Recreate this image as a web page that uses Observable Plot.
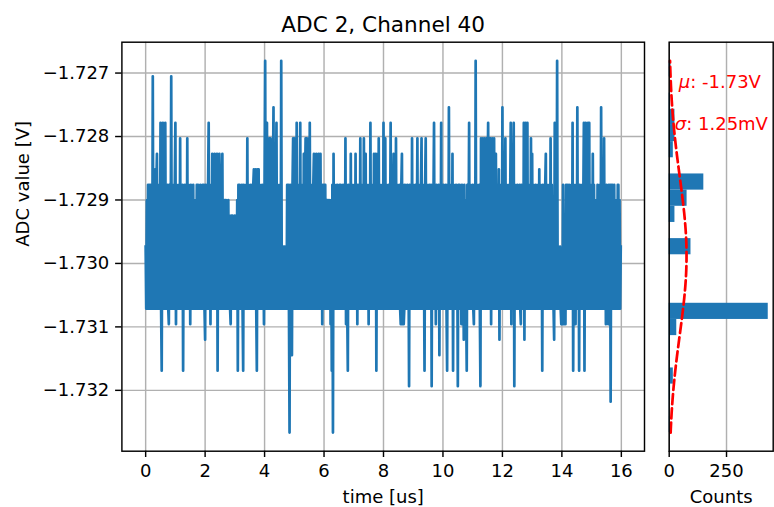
<!DOCTYPE html>
<html>
<head>
<meta charset="utf-8">
<script src="https://cdn.jsdelivr.net/npm/d3@7"></script>
<script src="https://cdn.jsdelivr.net/npm/@observablehq/plot@0.6"></script>
<style>
  html, body { margin: 0; padding: 0; background: #fff; }
  #fig { position: relative; width: 774px; height: 507px; overflow: hidden; background: #fff; }
  #fig > svg { position: absolute; top: 0; }
</style>
</head>
<body>
<div id="fig"></div>
<script>
// ADC output levels in volts (one code = 1/4096 V), lowest to highest.
// Each letter of levelKeys names the level at the same position.
const levels = [
  -1.7326660, -1.7324219, -1.7321777, -1.7319336, -1.7316895,
  -1.7314453, -1.7312012, -1.7309570, -1.7307129, -1.7304688,
  -1.7302246, -1.7299805, -1.7297363, -1.7294922, -1.7292480,
  -1.7290039, -1.7287598, -1.7285156, -1.7282715, -1.7280273,
  -1.7277832, -1.7275391, -1.7272949, -1.7270508, -1.7268066
];
const levelKeys = "ABCDEFGHIJKLMNOPQRSTUVWXY";

// Recorded samples, one string per microsecond (50 samples each).
const traceRows = [
  "MIPIQIQIQIQIXIQIRIQSIQIMIUIEQUIQIUIPIQIHQIMXIQIPIQ",
  "UHQIPIQITIMIQEPIQIMITIQIPHQIMIQIOIPIQIQIMIQIPIQIQI",
  "GQIPIQUIQHQISIMISIQISEQISIPIQSIMIPIPIMIPIOIHOIOIMI",
  "OIMIPEQIQIPIQIEQIMIQITIQIPIQIMIQRIQRIERIRIQIPIQIMH",
  "QYIQUITITITIQIQVIQIPUIQIMIQIYIMIMIMIMIQIQIAQIPFQTI",
  "TITIUIQIPIUIQIMISIQTITIQTIUIQIPIQSIQISIMISIQSIQHQI",
  "QIQIMPIPIOPHPEQASIQIPIQIMIQIQIMIQIPITHQIEQIMISIQIP",
  "IQISIQHQIPITIQIMITIQSIQIPHQIUIQIMISIQSEQSITIQIPIQI",
  "UIQTIQIPIQIMUIQIPSIQITIQIMIQIHQSHQHIQIPIQIMDQIPITI",
  "QIPIQIMTIQIPIQTIQIMEQTIQIPIQIMQDQIPUIQHQIMIQFQIUIQ",
  "IQIPIQIEQIVIQIMISEQIPIQIMDQIQIPHQIMGQIPIEQIMUIQIPI",
  "QIHQIYIQIPIQIDTIQTIQTIMTIQUIQTTHQTIQTIPSIQIMRGQIPI",
  "VIQIPTIQIMIQIPUHQIQUDQIPIQIMIQIHQIPIUGQUIQUIPIQITI",
  "SIQIPIQIMIQIRIQIPEQIMIQSIQIPIQITIQIMIGUIQIYIMIIMIH",
  "IHQIHMHQIQIPQIMIQIUEQIPHQIVIQEQIMIQIPUEQUIQIUIUIPI",
  "QISIQIPIMIQIPIQIVIQIMTIQHQIPHQHQCQIQIPQIMIPIQQIPIM"
];

// Histogram of the samples: 23 equal-width bins spanning the sample range.
const histCounts = [2, 1, 6, 18, 2, 5, 33, 432, 0, 0, 0, 95, 0, 25, 78, 151, 0, 18, 25, 25, 6, 0, 8];

// Gaussian fit of the samples.
const mu = -1.72988;
const sigma = 0.00125;

const xTicks = [0, 2, 4, 6, 8, 10, 12, 14, 16];
const yTicks = [-1.732, -1.731, -1.730, -1.729, -1.728, -1.727];
const countTicks = [0, 250];

const blue = "#1f77b4";
const gridColor = "#b0b0b0";
const lw = 1.44; // spine / grid / tick width in px

const samples = traceRows.flatMap((row, r) =>
  Array.from(row, (ch, j) => ({t: r + j / row.length, v: levels[levelKeys.indexOf(ch)]}))
);

// Axis limits: data extent with 5% padding on each side.
const pad = ([a, b]) => [a - 0.05 * (b - a), b + 0.05 * (b - a)];
const [vMin, vMax] = d3.extent(samples, d => d.v);
const xDomain = pad(d3.extent(samples, d => d.t));
const yDomain = pad([vMin, vMax]);

const binWidth = (vMax - vMin) / histCounts.length;
const bins = histCounts.map((n, k) => ({y1: vMin + k * binWidth, y2: vMin + (k + 1) * binWidth, n}));
const total = d3.sum(histCounts);
const fit = d3.range(201).map(i => {
  const v = vMin + (i / 200) * (vMax - vMin);
  const z = (v - mu) / sigma;
  return {v, n: total * binWidth * Math.exp(-0.5 * z * z) / (sigma * Math.sqrt(2 * Math.PI))};
});

const style = "font-family: 'DejaVu Sans', sans-serif; font-size: 18px; color: #000; background: transparent; overflow: visible;";
const frameTop = 41.7, frameBottom = 56.3;

const main = Plot.plot({
  width: 660, height: 507,
  marginLeft: 121.4, marginRight: 16, marginTop: frameTop, marginBottom: frameBottom,
  style,
  x: {domain: xDomain},
  y: {domain: yDomain},
  marks: [
    Plot.gridX(xTicks, {stroke: gridColor, strokeOpacity: 1, strokeWidth: lw}),
    Plot.gridY(yTicks, {stroke: gridColor, strokeOpacity: 1, strokeWidth: lw}),
    Plot.line(samples, {x: "t", y: "v", stroke: blue, strokeWidth: 2.7, strokeLinejoin: "round", strokeLinecap: "square"}),
    Plot.frame({stroke: "#000", strokeWidth: lw}),
    Plot.axisX(xTicks, {tickSize: 6.3, tickPadding: 7, strokeWidth: lw, label: null, fontSize: 18}),
    Plot.axisY(yTicks, {tickSize: 6.3, tickPadding: 6.3, strokeWidth: lw, label: null, fontSize: 18, tickFormat: d3.format(".3f")}),
    Plot.text(["ADC 2, Channel 40"], {text: d => d, frameAnchor: "top", dy: -10.7, lineAnchor: "bottom", fontSize: 21.6}),
    Plot.text(["time [us]"], {text: d => d, frameAnchor: "bottom", dy: 51.5, lineAnchor: "bottom", fontSize: 18}),
    Plot.text(["ADC value [V]"], {text: d => d, frameAnchor: "left", dx: -93, rotate: -90, lineAnchor: "bottom", fontSize: 18})
  ]
});

const hist = Plot.plot({
  width: 124, height: 507,
  marginLeft: 18.7, marginRight: 1.3, marginTop: frameTop, marginBottom: frameBottom,
  style,
  x: {domain: [0, d3.max(histCounts) * 1.05]},
  y: {domain: yDomain, axis: null},
  marks: [
    Plot.gridX(countTicks, {stroke: gridColor, strokeOpacity: 1, strokeWidth: lw}),
    Plot.rect(bins, {x1: 0, x2: "n", y1: "y1", y2: "y2", fill: blue}),
    Plot.line(fit, {x: "n", y: "v", stroke: "red", strokeWidth: 2.7, strokeDasharray: "10,4.3"}),
    Plot.frame({stroke: "#000", strokeWidth: lw}),
    Plot.axisX(countTicks, {tickSize: 6.3, tickPadding: 7, strokeWidth: lw, label: null, fontSize: 18}),
    Plot.text(["Counts"], {text: d => d, frameAnchor: "bottom", dy: 51.5, lineAnchor: "bottom", fontSize: 18}),
    Plot.text([`μ: ${mu.toFixed(2)}V`], {text: d => d, frameAnchor: "top-left", dx: 9.6, dy: 45.6, textAnchor: "start", lineAnchor: "bottom", fill: "red", fontSize: 18}),
    Plot.text([`σ: ${(sigma * 1000).toFixed(2)}mV`], {text: d => d, frameAnchor: "top-left", dx: 5.6, dy: 87.6, textAnchor: "start", lineAnchor: "bottom", fill: "red", fontSize: 18})
  ]
});

// Greek symbols set in italics, as in math notation.
for (const t of hist.querySelectorAll("text")) {
  const s = t.textContent;
  if (/^[μσ]/.test(s)) {
    t.textContent = "";
    const g = document.createElementNS("http://www.w3.org/2000/svg", "tspan");
    g.setAttribute("font-style", "italic");
    g.textContent = s[0];
    t.append(g, s.slice(1));
  }
}

main.style.left = "0px";
hist.style.left = "650px";
document.getElementById("fig").append(main, hist);
</script>
</body>
</html>
